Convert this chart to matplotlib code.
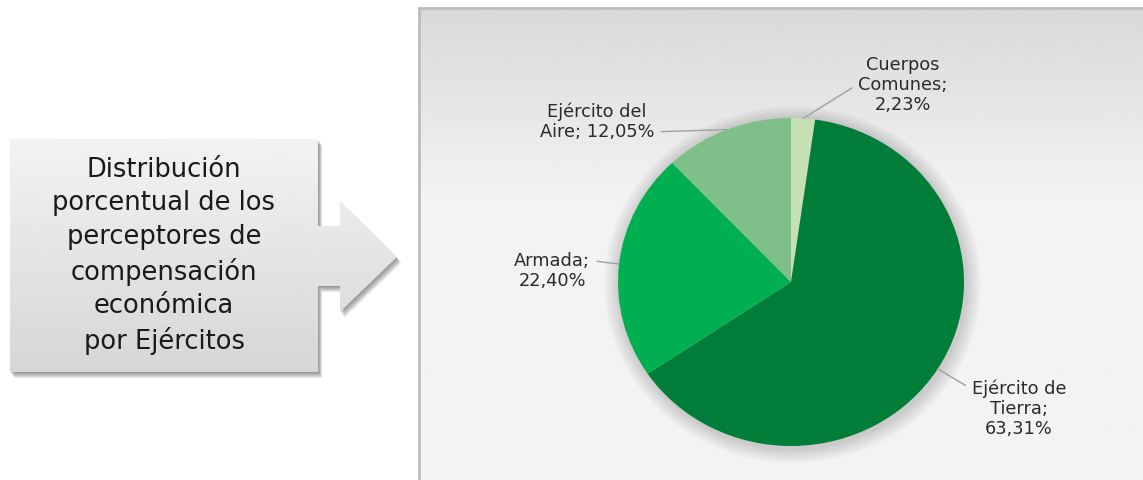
import numpy as np
import matplotlib
matplotlib.use('Agg')
import matplotlib.pyplot as plt
from matplotlib.patches import Polygon, Ellipse

# data
categories = ['Cuerpos\nComunes;\n2,23%', 'Ejército de\nTierra;\n63,31%', 'Armada;\n22,40%', 'Ejército del\nAire; 12,05%']
shares = [2.23, 63.31, 22.40, 12.05]
colors = ['#c5e0b3', '#007e39', '#00b050', '#7fbf8a']
title_text = 'Distribución\nporcentual de los\nperceptores de\ncompensación\neconómica\npor Ejércitos'

W, H = 1143, 481
fig = plt.figure(figsize=(W / 100, H / 100), dpi=100)
fig.patch.set_facecolor('white')

# full figure axes in pixel coords
bg = fig.add_axes([0, 0, 1, 1])
bg.set_xlim(0, W)
bg.set_ylim(H, 0)
bg.axis('off')

# chart panel with vertical gradient
grad = np.concatenate([np.linspace(0.85, 0.95, 200), np.full(300, 0.95)])[:, None]
bg.imshow(np.repeat(grad, 2, axis=1), cmap='gray', vmin=0, vmax=1, aspect='auto',
          extent=(419, W, H, 9), zorder=0)
bg.plot([419, W], [9, 9], color='#bdbdbd', lw=2, zorder=1)
bg.plot([419, 419], [9, H], color='#bdbdbd', lw=2, zorder=1)

# callout box with arrow
pts = [(10, 140), (318, 140), (318, 227), (340, 227), (340, 202), (397, 258),
       (340, 313), (340, 287), (318, 287), (318, 373), (10, 373)]
for k in range(1, 7):
    sh = Polygon([(x + k * 0.7, y + k * 1.0) for x, y in pts], closed=True,
                 facecolor='#303030', edgecolor='none', alpha=0.1, zorder=2)
    bg.add_patch(sh)
box = Polygon(pts, closed=True, facecolor='none', edgecolor='none', zorder=3)
bg.add_patch(box)
bgrad = np.linspace(0.95, 0.84, 100)[:, None]
im = bg.imshow(np.repeat(bgrad, 2, axis=1), cmap='gray', vmin=0, vmax=1, aspect='auto',
               extent=(10, 397, 373, 140), zorder=3)
im.set_clip_path(box)
bg.text(164, 256, title_text, ha='center', va='center', fontsize=18.5,
        linespacing=1.36, color='#1a1a1a', zorder=4)

# pie
pax = fig.add_axes([618 / W, (H - 447) / H, 346 / W, 328 / H])
pax.patch.set_visible(False)
for k in range(1, 11):
    pax.add_patch(Ellipse((0.01, -0.015), 2 + k * 0.018, 2 + k * 0.018,
                          facecolor='black', edgecolor='none', alpha=0.014, zorder=0,
                          clip_on=False))
wedges, _ = pax.pie(shares, colors=colors, startangle=90, counterclock=False,
                    radius=1, wedgeprops=dict(linewidth=0, zorder=2))
pax.set_aspect('auto')
pax.set_xlim(-1, 1)
pax.set_ylim(-1, 1)
pax.axis('off')

# label placement (pixel coords), and attachment point on the text
label_pos = [(903, 85), (1019, 409), (552, 271), (597, 122)]
label_rel = [(0, 0.5), (0, 0.82), (1, 0.75), (1, 0.22)]
for w, lab, pos, rel in zip(wedges, categories, label_pos, label_rel):
    ang = np.deg2rad((w.theta1 + w.theta2) / 2)
    pax.annotate(lab, xy=(np.cos(ang), np.sin(ang)), xycoords='data',
                 xytext=pos, textcoords=bg.transData,
                 ha='center', va='center', fontsize=12.8, linespacing=1.16,
                 color='#2b2b2b', annotation_clip=False,
                 arrowprops=dict(arrowstyle='-', color='#a0a0a0', lw=1,
                                 relpos=rel, shrinkA=3, shrinkB=0))

fig.savefig('out.png', dpi=100)
